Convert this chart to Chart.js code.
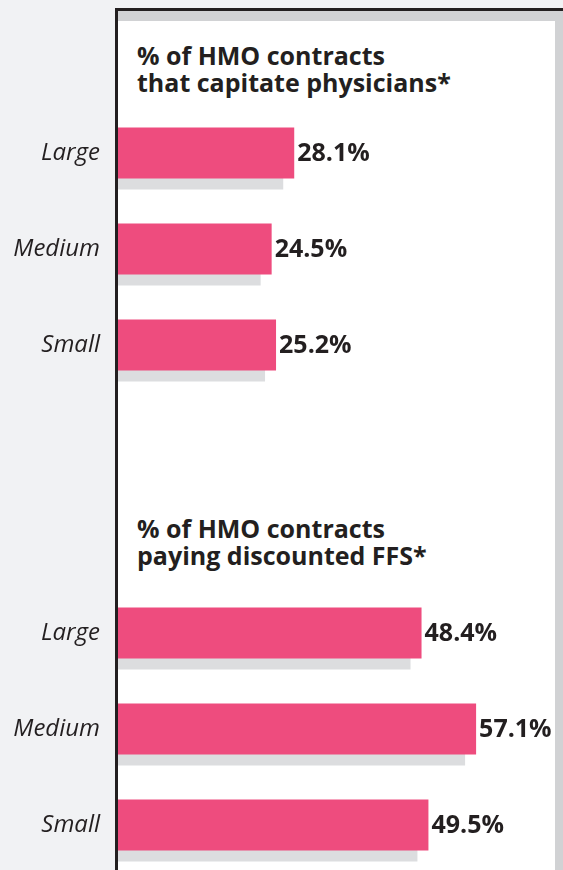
<!DOCTYPE html>
<html>
<head>
<meta charset="utf-8">
<script src="https://cdn.jsdelivr.net/npm/chart.js@4"></script>
<style>
  html, body { margin: 0; padding: 0; }
  body {
    width: 563px; height: 870px; overflow: hidden; position: relative;
    background: #f1f2f4; font-family: "Open Sans", sans-serif; color: #231f20;
  }
  .frame {
    position: absolute; left: 115px; top: 8px; right: 0; bottom: 0;
    border-top: 3px solid #231f20; border-left: 3px solid #231f20;
    background: #d1d2d4;
  }
  .panel {
    position: absolute; left: 118px; top: 21px; width: 437px; bottom: 0;
    background: #ffffff;
  }
  .title {
    position: absolute; left: 137px; font-weight: 700; font-size: 25px;
    line-height: 26.5px; white-space: nowrap;
  }
  canvas { position: absolute; left: 0; }
</style>
</head>
<body>
<div class="frame"></div>
<div class="panel"></div>

<div class="title" style="top:42px">% of HMO contracts<br>that capitate physicians*</div>
<div class="title" style="top:515px">% of HMO contracts<br>paying discounted FFS*</div>

<canvas id="capChart" width="563" height="288" style="top:105px"></canvas>
<canvas id="ffsChart" width="563" height="288" style="top:585px"></canvas>

<script>
// group sizes
const categories = ['Large', 'Medium', 'Small'];
// % of HMO contracts that capitate physicians
const capitateValues = [28.1, 24.5, 25.2];
// % of HMO contracts paying discounted FFS
const ffsValues = [48.4, 57.1, 49.5];

const pink = '#ee4c7e';
const shadowGray = '#dcdddf';
const textColor = '#231f20';

// grey drop shadow under the bars (down and to the left)
const barShadow = {
    id: 'barShadow',
    beforeDatasetDraw(chart) {
        const ctx = chart.ctx;
        ctx.shadowColor = shadowGray;
        ctx.shadowOffsetX = -11;
        ctx.shadowOffsetY = 11;
        ctx.shadowBlur = 0;
    },
    afterDatasetDraw(chart) {
        const ctx = chart.ctx;
        ctx.shadowColor = 'rgba(0,0,0,0)';
        ctx.shadowOffsetX = 0;
        ctx.shadowOffsetY = 0;
    }
};

// value labels at the end of each bar
const valueLabels = {
    id: 'valueLabels',
    afterDatasetsDraw(chart) {
        const ctx = chart.ctx;
        const meta = chart.getDatasetMeta(0);
        const values = chart.data.datasets[0].data;
        ctx.save();
        ctx.font = 'bold 25px "Open Sans"';
        ctx.fillStyle = textColor;
        ctx.textAlign = 'left';
        ctx.textBaseline = 'middle';
        meta.data.forEach((bar, i) => {
            ctx.fillText(values[i].toFixed(1) + '%', bar.x + 3, bar.y + 1);
        });
        ctx.restore();
    }
};

function makeChart(id, values) {
    const ctx = document.getElementById(id).getContext('2d');
    return new Chart(ctx, {
        type: 'bar',
        data: {
            labels: categories,
            datasets: [{
                data: values,
                backgroundColor: pink,
                borderWidth: 0,
                categoryPercentage: 1,
                barPercentage: 0.531,
                clip: 0
            }]
        },
        options: {
            indexAxis: 'y',
            responsive: false,
            animation: false,
            events: [],
            layout: { padding: { left: 0, right: 6, top: 0, bottom: 0 } },
            plugins: {
                legend: { display: false },
                tooltip: { enabled: false },
                title: { display: false }
            },
            scales: {
                x: { display: false, min: 0, max: 70 },
                y: {
                    grid: { display: false, drawTicks: false },
                    border: { display: false },
                    ticks: {
                        color: textColor,
                        padding: 18,
                        font: { family: 'Open Sans', size: 24, style: 'italic' }
                    },
                    afterFit(scale) {
                        scale.width = 118;
                        scale.paddingTop = 0;
                        scale.paddingBottom = 0;
                    }
                }
            }
        },
        plugins: [barShadow, valueLabels]
    });
}

makeChart('capChart', capitateValues);
makeChart('ffsChart', ffsValues);
</script>
</body>
</html>
